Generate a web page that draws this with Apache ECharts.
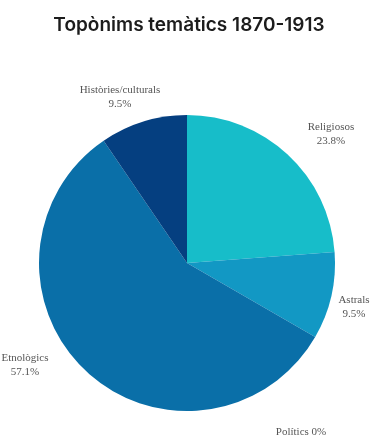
<!DOCTYPE html>
<html>
<head>
<meta charset="utf-8">
<script src="https://cdn.jsdelivr.net/npm/echarts@6/dist/echarts.min.js"></script>
<style>
  html, body { margin: 0; padding: 0; background: #ffffff; }
  #chart { width: 378px; height: 441px; }
</style>
</head>
<body>
<div id="chart"></div>
<script>
// Thematic place names, 1870-1913 (counts per theme)
const categories = ['Religiosos', 'Astrals', 'Polítics', 'Etnològics', 'Històries/culturals'];
const counts = [5, 2, 0, 12, 2];
const colors = ['#17bdc9', '#1298c4', '#0b80b4', '#0a6fa8', '#053f80'];

// Label anchor points around the pie (layout only)
const labelSpots = [[331, 134], [354, 307], [301, 432], [25, 365], [120, 97]];

const total = counts.reduce(function (a, b) { return a + b; }, 0);

const chart = echarts.init(document.getElementById('chart'));

chart.setOption({
  animation: false,
  title: {
    text: 'Topònims temàtics 1870-1913',
    left: 'center',
    top: 11,
    textStyle: {
      fontFamily: 'Inter',
      fontWeight: 600,
      fontSize: 19,
      color: '#1c1c1c'
    }
  },
  series: [{
    type: 'pie',
    center: [187, 263],
    radius: [0, 148],
    startAngle: 90,
    clockwise: true,
    avoidLabelOverlap: false,
    stillShowZeroSum: true,
    itemStyle: { borderWidth: 0 },
    label: {
      show: true,
      position: 'outside',
      fontFamily: 'Liberation Serif',
      fontSize: 11,
      lineHeight: 14,
      color: '#555555',
      align: 'center',
      formatter: function (p) {
        // plain rounding of each share, no largest-remainder adjustment
        if (p.value === 0) return p.name + ' 0%';
        return p.name + '\n' + (p.value / total * 100).toFixed(1) + '%';
      }
    },
    labelLine: { show: false },
    labelLayout: function (p) {
      const s = labelSpots[p.dataIndex];
      return { x: s[0], y: s[1], align: 'center', verticalAlign: 'middle' };
    },
    emphasis: { disabled: true },
    data: categories.map(function (name, i) {
      return { name: name, value: counts[i], itemStyle: { color: colors[i] } };
    })
  }]
});
</script>
</body>
</html>
